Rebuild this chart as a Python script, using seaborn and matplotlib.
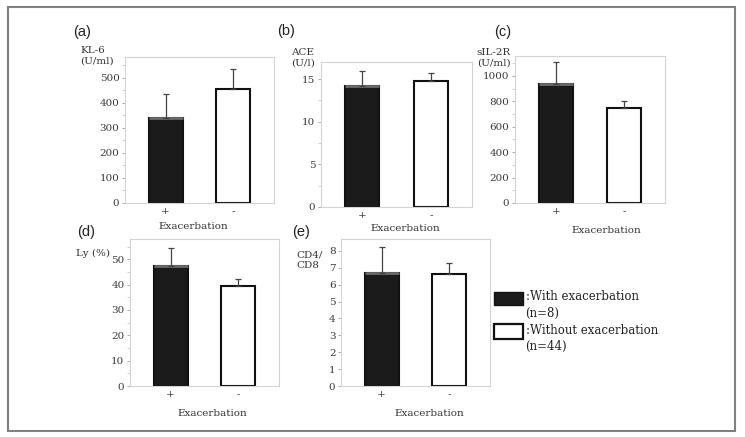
import pandas as pd
import matplotlib.pyplot as plt
import seaborn as sns
from matplotlib.patches import Rectangle
from matplotlib.ticker import MultipleLocator

# data (mean, upper SD)
groups = ["+", "-"]
kl6_mean = [340, 455]
kl6_sd = [94, 82]
ace_mean = [14.15, 14.75]
ace_sd = [1.85, 0.95]
sil2r_mean = [934, 746]
sil2r_sd = [172, 57]
ly_mean = [47.5, 39.3]
ly_sd = [7.0, 2.9]
cd4cd8_mean = [6.7, 6.65]
cd4cd8_sd = [1.5, 0.65]

legend_labels = [":With exacerbation", ":Without exacerbation"]
legend_n = ["(n=8)", "(n=44)"]

bar_colors = ["#1b1b1b", "#ffffff"]

W, H = 745, 437

# layout in pixels: axes box (left, top, right, bottom), ylabel coords, xlabel coords, letter pos
panels = [
    dict(mean=kl6_mean, sd=kl6_sd, ylabel="KL-6\n(U/ml)", letter="(a)", ymax=584, major=100, minor=50,
         box=(125, 57, 274, 203), ylab=(-0.30, 1.01), xlab=(0.46, -0.158), let=(73, 32)),
    dict(mean=ace_mean, sd=ace_sd, ylabel="ACE\n(U/l)", letter="(b)", ymax=17, major=5, minor=2.5,
         box=(321, 62, 472, 207), ylab=(-0.20, 1.03), xlab=(0.56, -0.145), let=(277, 31)),
    dict(mean=sil2r_mean, sd=sil2r_sd, ylabel="sIL-2R\n(U/ml)", letter="(c)", ymax=1157, major=200, minor=100,
         box=(515, 56, 665, 203), ylab=(-0.255, 0.99), xlab=(0.61, -0.184), let=(494, 32)),
    dict(mean=ly_mean, sd=ly_sd, ylabel="Ly (%)", letter="(d)", ymax=58, major=10, minor=5,
         box=(130, 239, 279, 386), ylab=(-0.36, 0.905), xlab=(0.55, -0.184), let=(77, 232)),
    dict(mean=cd4cd8_mean, sd=cd4cd8_sd, ylabel="CD4/\nCD8", letter="(e)", ymax=8.7, major=1, minor=None,
         box=(341, 239, 490, 386), ylab=(-0.30, 0.857), xlab=(0.59, -0.184), let=(292, 232)),
]

sns.set_theme(style="white")
plt.rcParams["font.family"] = ["DejaVu Serif"]

fig = plt.figure(figsize=(W / 100, H / 100), dpi=100)


def px_box(l, t, r, b):
    return [l / W, 1 - b / H, (r - l) / W, (b - t) / H]


for p in panels:
    ax = fig.add_axes(px_box(*p["box"]))
    df = pd.DataFrame({"Exacerbation": groups, "value": p["mean"]})
    sns.barplot(data=df, x="Exacerbation", y="value", hue="Exacerbation",
                palette=dict(zip(groups, bar_colors)), dodge=False, legend=False,
                width=0.5, edgecolor="#111111", linewidth=1.5, errorbar=None, ax=ax)

    # gray highlight on top of the dark bar
    dark = ax.patches[0]
    x0, w, top = dark.get_x(), dark.get_width(), dark.get_height()
    ax.plot([x0, x0 + w], [top, top], color="#6a6a6a", lw=2, solid_capstyle="butt", zorder=4)

    ax.errorbar(range(len(groups)), p["mean"], yerr=[[0] * len(groups), p["sd"]], fmt="none",
                ecolor="#444444", elinewidth=0.9, capsize=2.5, capthick=0.9, zorder=5)

    ax.set_xlim(-0.6, 1.6)
    ax.set_ylim(0, p["ymax"])
    ax.yaxis.set_major_locator(MultipleLocator(p["major"]))
    if p["minor"]:
        ax.yaxis.set_minor_locator(MultipleLocator(p["minor"]))

    for s in ax.spines.values():
        s.set_color("#d4d4d4")
        s.set_linewidth(0.8)

    ax.tick_params(axis="y", which="major", direction="out", length=2.5, width=0.6, color="#a0a0a0",
                   labelsize=7.5, labelcolor="#3a3a3a", pad=1.5, left=True)
    ax.tick_params(axis="y", which="minor", direction="out", length=2, width=0.6, color="#c8c8c8", left=True)
    ax.tick_params(axis="x", length=0, labelsize=7.5, labelcolor="#3a3a3a", pad=3)

    ax.set_ylabel(p["ylabel"], rotation=0, ha="left", va="center", fontsize=7.5, color="#333333",
                  multialignment="left")
    ax.yaxis.set_label_coords(*p["ylab"])
    ax.set_xlabel("Exacerbation", fontsize=7.5, color="#333333")
    ax.xaxis.set_label_coords(*p["xlab"])
    ax.xaxis.label.set_va("center")

    lx, ly = p["let"]
    fig.text(lx / W, 1 - ly / H, p["letter"], family="Liberation Sans", fontsize=10.5,
             color="#222222", ha="left", va="center")

# legend drawn by hand
fig.patches.append(Rectangle((494 / W, 1 - 305 / H), 29 / W, 13 / H, transform=fig.transFigure,
                             facecolor=bar_colors[0], edgecolor="#111111", lw=1))
fig.patches.append(Rectangle((494 / W, 1 - 339 / H), 29 / W, 15 / H, transform=fig.transFigure,
                             facecolor=bar_colors[1], edgecolor="#111111", lw=1.6))
for lab, n, y in zip(legend_labels, legend_n, [297, 330]):
    fig.text(526 / W, 1 - y / H, lab, fontsize=8.5, color="#222222", ha="left", va="center")
    fig.text(525 / W, 1 - (y + 16) / H, n, fontsize=8.5, color="#222222", ha="left", va="center")

# outer frame
fig.patches.append(Rectangle((8 / W, 1 - 431 / H), 727 / W, 424 / H, transform=fig.transFigure,
                             fill=False, edgecolor="#808080", lw=1.5))

fig.savefig("out.png", dpi=100)
